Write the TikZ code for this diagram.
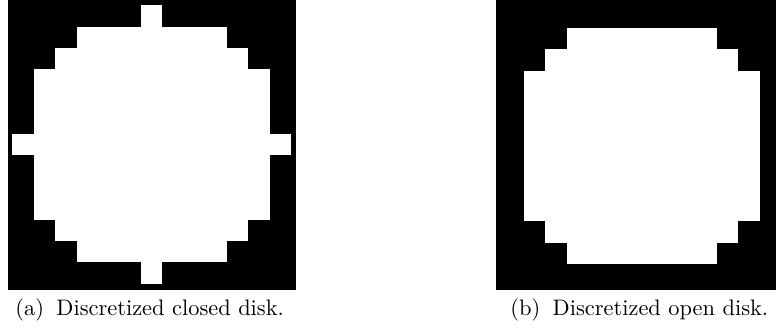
\documentclass[tikz,border=0pt]{standalone}
\usepackage{tikz}
\usetikzlibrary{positioning}
\definecolor{pixelblack}{RGB}{0,0,0}
\definecolor{pixelwhite}{RGB}{255,255,255}

\tikzset{
  panel/.style={fill=pixelblack},
  pixel/.style={fill=pixelwhite},
  subcap/.style={anchor=base west, inner sep=0pt, font=\normalsize}
}

\begin{document}
\begin{tikzpicture}[x=0.446pt, y=-0.446pt]
  \useasboundingbox (0,0) rectangle (776,333);

  % Black backgrounds
  \fill[panel] (8,0) rectangle (296,290);
  \fill[panel] (496,0) rectangle (776,290);

  % Closed disk (radius 6 cells)
  \begin{scope}[shift={(151.7,144.5)}, x=9.567pt, y=-9.567pt]
    \fill[pixel] (-6.5,-0.5) rectangle (6.5,0.5);
    \fill[pixel] (-5.5,-3.5) rectangle (5.5,3.5);
    \fill[pixel] (-4.5,-4.5) rectangle (4.5,4.5);
    \fill[pixel] (-3.5,-5.5) rectangle (3.5,5.5);
    \fill[pixel] (-0.5,-6.5) rectangle (0.5,6.5);
  \end{scope}

  % Open disk (radius 6 cells)
  \begin{scope}[shift={(641.8,146)}, x=9.567pt, y=-9.567pt]
    \fill[pixel] (-5.5,-3.5) rectangle (5.5,3.5);
    \fill[pixel] (-4.5,-4.5) rectangle (4.5,4.5);
    \fill[pixel] (-3.5,-5.5) rectangle (3.5,5.5);
  \end{scope}

  % Captions
  \node[subcap] (capclosed) at (15,315) {(a)\hspace{5.5pt}Discretized closed disk.};
  \node[subcap] (capopen) at (510,315) {(b)\hspace{5.5pt}Discretized open disk.};

\end{tikzpicture}
\end{document}
